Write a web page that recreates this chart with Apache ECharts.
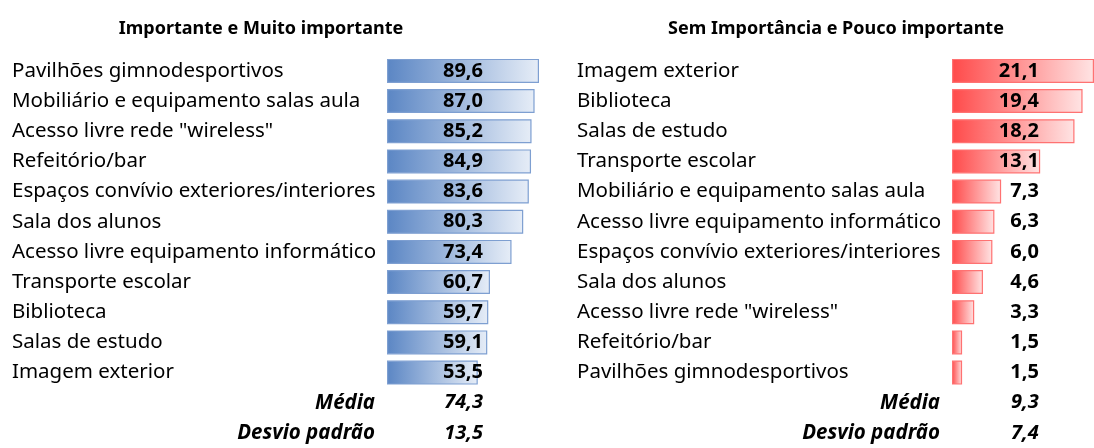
<!DOCTYPE html>
<html>
<head>
<meta charset="utf-8">
<script src="https://cdn.jsdelivr.net/npm/echarts@6/dist/echarts.min.js"></script>
<style>
  html, body { margin: 0; padding: 0; background: #fff; }
  #chart { width: 1094px; height: 448px; }
</style>
</head>
<body>
<div id="chart"></div>
<script>
// dados
var catsImportante = ['Pavilhões gimnodesportivos', 'Mobiliário e equipamento salas aula', 'Acesso livre rede "wireless"',
  'Refeitório/bar', 'Espaços convívio exteriores/interiores', 'Sala dos alunos', 'Acesso livre equipamento informático',
  'Transporte escolar', 'Biblioteca', 'Salas de estudo', 'Imagem exterior'];
var valsImportante = [89.6, 87.0, 85.2, 84.9, 83.6, 80.3, 73.4, 60.7, 59.7, 59.1, 53.5];

var catsSemImportancia = ['Imagem exterior', 'Biblioteca', 'Salas de estudo', 'Transporte escolar',
  'Mobiliário e equipamento salas aula', 'Acesso livre equipamento informático', 'Espaços convívio exteriores/interiores',
  'Sala dos alunos', 'Acesso livre rede "wireless"', 'Refeitório/bar', 'Pavilhões gimnodesportivos'];
var valsSemImportancia = [21.1, 19.4, 18.2, 13.1, 7.3, 6.3, 6.0, 4.6, 3.3, 1.5, 1.5];

var statLabels = ['Média', 'Desvio padrão'];
var statsImportante = [74.3, 13.5];
var statsSemImportancia = [9.3, 7.4];

var titles = ['Importante e Muito importante', 'Sem Importância e Pouco importante'];

var FONT = 'Noto Sans';
var FS = 20.5;
var VFS = 20;
var chart = echarts.init(document.getElementById('chart'));

function fmt(v) { return v.toFixed(1).replace('.', ','); }

// linhas: 11 categorias + 2 estatísticas
var rowTop = 55.8, rowH = 30.75, nRows = 13;

function panel(idx, cats, vals, stats, gridLeft, labelPx, c1, c2, border) {
  var all = cats.concat(statLabels);
  var maxV = Math.max.apply(null, vals);
  var barW = 152;
  var labelVal = labelPx / barW * maxV;
  var statSet = {};
  statLabels.forEach(function (s) { statSet[s] = true; });
  return {
    grid: { left: gridLeft, top: rowTop, width: barW, height: rowH * nRows, containLabel: false },
    xAxis: { gridIndex: idx, type: 'value', min: 0, max: maxV, show: false },
    yAxis: {
      gridIndex: idx, type: 'category', inverse: true, data: all,
      axisLine: { show: false }, axisTick: { show: false }, splitLine: { show: false },
      axisLabel: {
        margin: 375, align: 'left', fontFamily: FONT, fontSize: FS, color: '#000',
        formatter: function (v) { return statSet[v] ? '{s|' + v + '}' : v; },
        rich: { s: { width: 363, align: 'right', fontStyle: 'italic', fontWeight: 'bold', fontFamily: FONT, fontSize: FS, color: '#000' } }
      }
    },
    series: [
      {
        type: 'bar', xAxisIndex: idx, yAxisIndex: idx, barWidth: 24,
        data: vals,
        itemStyle: {
          color: new echarts.graphic.LinearGradient(0, 0, 1, 0, [{ offset: 0, color: c1 }, { offset: 1, color: c2 }]),
          borderColor: border, borderWidth: 1.2
        },
        silent: true
      },
      {
        type: 'scatter', xAxisIndex: idx, yAxisIndex: idx, symbolSize: 0, silent: true,
        itemStyle: { opacity: 1 },
        data: vals.map(function (v, i) { return [labelVal, i, v, 0]; }).concat(
          stats.map(function (v, i) { return [labelVal, cats.length + i, v, 1]; })),
        label: {
          show: true, position: 'left', distance: 0,
          fontFamily: FONT, fontSize: VFS, fontWeight: 'bold', color: '#000',
          formatter: function (p) { return p.value[3] ? '{i|' + fmt(p.value[2]) + '}' : fmt(p.value[2]); },
          rich: { i: { fontFamily: FONT, fontSize: VFS, fontWeight: 'bold', fontStyle: 'italic', color: '#000' } }
        },
        z: 5
      }
    ]
  };
}

var pL = panel(0, catsImportante, valsImportante, statsImportante, 387, 96, '#5B86C4', '#E6EDF7', '#7E9FD1');
var pR = panel(1, catsSemImportancia, valsSemImportancia, statsSemImportancia, 952, 93, '#FF4A4A', '#FFE4E4', '#FF7272');

var titleStyle = { fontFamily: FONT, fontSize: 18, fontWeight: 'bold', color: '#000' };
var option = {
  backgroundColor: '#fff',
  animation: false,
  title: [
    { text: titles[0], left: 256, top: 15, textAlign: 'center', textStyle: titleStyle },
    { text: titles[1], left: 831, top: 15, textAlign: 'center', textStyle: titleStyle }
  ],
  grid: [pL.grid, pR.grid],
  xAxis: [pL.xAxis, pR.xAxis],
  yAxis: [pL.yAxis, pR.yAxis],
  series: pL.series.concat(pR.series)
};
chart.setOption(option);
</script>
</body>
</html>
